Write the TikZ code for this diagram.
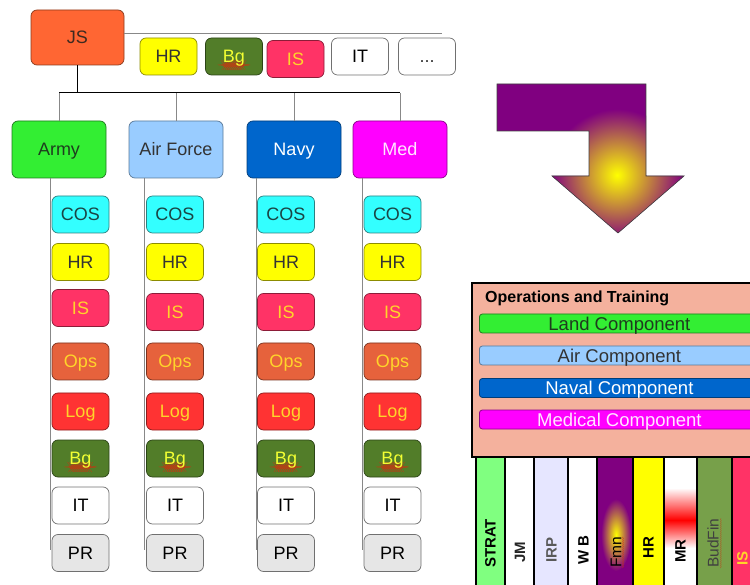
\documentclass[tikz,border=0pt]{standalone}
\usepackage{fontspec}
\setmainfont{Liberation Sans}
\usetikzlibrary{decorations.pathmorphing}

% fills, borders and text colours of the units
\definecolor{JSfill}{HTML}{FF6633}\definecolor{JSdraw}{HTML}{8C3A1C}\definecolor{JStext}{HTML}{3D2A20}
\definecolor{HRfill}{HTML}{FFFF00}\definecolor{HRdraw}{HTML}{8C8C00}\definecolor{HRtext}{HTML}{333333}
\definecolor{BGfill}{HTML}{527D29}\definecolor{BGdraw}{HTML}{2B4416}\definecolor{BGtext}{HTML}{F2FF33}
\definecolor{ISfill}{HTML}{FF3366}\definecolor{ISdraw}{HTML}{8C1C38}\definecolor{IStext}{HTML}{FFD42A}
\definecolor{ITdraw}{HTML}{707070}
\definecolor{COSfill}{HTML}{33FFFF}\definecolor{COSdraw}{HTML}{2B8080}\definecolor{COStext}{HTML}{1A4545}
\definecolor{OPSfill}{HTML}{E6623C}\definecolor{OPSdraw}{HTML}{7A3320}
\definecolor{LOGfill}{HTML}{FF3333}\definecolor{LOGdraw}{HTML}{8C1C1C}
\definecolor{PRfill}{HTML}{E6E6E6}
\definecolor{ARMYfill}{HTML}{33EE33}\definecolor{ARMYdraw}{HTML}{1F7A1F}\definecolor{ARMYtext}{HTML}{1E3D1E}
\definecolor{AIRfill}{HTML}{99CCFF}\definecolor{AIRdraw}{HTML}{5A7A99}
\definecolor{NAVYfill}{HTML}{0066CC}\definecolor{NAVYdraw}{HTML}{003D7A}
\definecolor{MEDfill}{HTML}{FF00FF}\definecolor{MEDdraw}{HTML}{8C008C}\definecolor{MEDtext}{HTML}{FFE6FF}
\definecolor{LINKgray}{HTML}{888888}
\definecolor{ArrowPurple}{HTML}{800080}
\definecolor{OTfill}{HTML}{F4B19D}
\definecolor{STRATfill}{HTML}{80FF80}
\definecolor{IRPfill}{HTML}{E6E6FF}
\definecolor{BUDfill}{HTML}{77A04A}
\definecolor{SpellRed}{HTML}{D03010}

\begin{document}
\begin{tikzpicture}[x=1pt, y=-1pt,
  box/.style={draw, rounded corners=6pt, line width=0.7pt, inner sep=0pt,
    text height=12.9pt, text depth=0pt, font=\fontsize{18}{20}\selectfont},
  unit/.style={box, minimum width=57pt, minimum height=37pt},
  dept/.style={box, minimum width=94pt, minimum height=57pt},
  cJS/.style={fill=JSfill, draw=JSdraw, text=JStext},
  cHR/.style={fill=HRfill, draw=HRdraw, text=HRtext},
  cBG/.style={fill=BGfill, draw=BGdraw, text=BGtext, spell},
  cIS/.style={fill=ISfill, draw=ISdraw, text=IStext},
  cIT/.style={fill=white, draw=ITdraw, text=black},
  cCOS/.style={fill=COSfill, draw=COSdraw, text=COStext},
  cOPS/.style={fill=OPSfill, draw=OPSdraw, text=IStext},
  cLOG/.style={fill=LOGfill, draw=LOGdraw, text=IStext},
  cPR/.style={fill=PRfill, draw=ITdraw, text=black},
  squiggle/.style={SpellRed, draw opacity=0.8, line width=0.3pt, decorate,
      decoration={snake, amplitude=0.5pt, segment length=2pt}},
  spell/.style={path picture={\draw[squiggle]
      ([xshift=-11pt,yshift=-8.5pt]path picture bounding box.center) -- ++(22pt,0pt);}},
  link/.style={draw=LINKgray, line width=1pt},
  trunk/.style={draw=black, line width=1pt},
  comp/.style={draw, rounded corners=3pt, line width=0.8pt, minimum width=280pt,
    minimum height=19pt, inner sep=0pt, text height=13.2pt, text depth=0pt,
    anchor=west, font=\fontsize{18.5}{20}\selectfont},
  col/.style={inner sep=0pt, minimum height=140pt, anchor=north west},
  colrule/.style={draw=black, line width=1.6pt},
  coltext/.style={rotate=90, anchor=west, inner sep=0pt,
    font=\bfseries\fontsize{15}{17}\selectfont},
]
\clip (0,0) rectangle (750,585);

% ---- head of the structure and its staff units
\node[box, cJS, minimum width=93pt, minimum height=55pt] (js) at (77.5,37.5) {JS};
\coordinate (staffend) at (442,34);
\draw[link] (js.east |- staffend) -- (staffend);
\node[unit, cHR] (hr) at (168.5,56.5) {HR};
\node[unit, cBG] (bg) at (234,56.5) {Bg};
\node[unit, cIS] (is) at (295.5,59) {IS};
\node[unit, cIT] (it) at (360,56.5) {IT};
\node[unit, cIT, text=HRtext] (more) at (427,56.5) {...};

% ---- services
\node[dept, fill=ARMYfill, draw=ARMYdraw, text=ARMYtext] (army) at (59,149.5) {Army};
\node[dept, fill=AIRfill, draw=AIRdraw, text=HRtext] (air) at (176,149.5) {Air Force};
\node[dept, fill=NAVYfill, draw=NAVYdraw, text=white] (navy) at (294,149.5) {Navy};
\node[dept, fill=MEDfill, draw=MEDdraw, text=MEDtext] (med) at (400,149.5) {Med};

\coordinate (bus) at (77.5,93);
\draw[trunk] (js.south) -- (bus);
\draw[trunk] (army.north |- bus) -- (med.north |- bus);
\foreach \d in {army,air,navy,med}
  \draw[link] (\d.north) -- (\d.north |- bus);

% ---- branches under each service
\foreach \c/\lx in {army/50, air/144, navy/256, med/362} {
  \coordinate (\c-end) at (\lx,550);
  \draw[link] (\c-end |- \c.south) -- (\c-end);
}
\foreach \c/\x/\isy in {army/80.5/308, air/175/312, navy/286/312, med/392.5/312} {
  \node[unit, cCOS] (\c-cos) at (\x,214.5) {COS};
  \node[unit, cHR]  (\c-hr)  at (\x,262) {HR};
  \node[unit, cIS]  (\c-is)  at (\x,\isy) {IS};
  \node[unit, cOPS] (\c-ops) at (\x,361.5) {Ops};
  \node[unit, cLOG] (\c-log) at (\x,411.5) {Log};
  \node[unit, cBG]  (\c-bg)  at (\x,458.5) {Bg};
  \node[unit, cIT]  (\c-it)  at (\x,505.5) {IT};
  \node[unit, cPR]  (\c-pr)  at (\x,553) {PR};
}

% ---- bent arrow towards the new structure
\coordinate (a1) at (497,84);  \coordinate (a2) at (646,84);
\coordinate (a3) at (646,176); \coordinate (a4) at (684,176);
\coordinate (a5) at (618,233); \coordinate (a6) at (552,176);
\coordinate (a7) at (589,176); \coordinate (a8) at (589,131);
\coordinate (a9) at (497,131);
\begin{scope}
  \clip (a1) -- (a2) -- (a3) -- (a4) -- (a5) -- (a6) -- (a7) -- (a8) -- (a9) -- cycle;
  \fill[ArrowPurple] (a1) -- (a2) -- (a3) -- (a4) -- (a5) -- (a6) -- (a7) -- (a8) -- (a9) -- cycle;
  \shade[inner color=yellow, outer color=ArrowPurple] (617,175) circle [radius=66pt];
\end{scope}
\draw[draw=black!75, line width=0.6pt] (a1) -- (a2) -- (a3) -- (a4) -- (a5) -- (a6) -- (a7) -- (a8) -- (a9) -- cycle;

% ---- directorate columns
\node[col, fill=STRATfill, minimum width=29pt] (c1) at (476,457) {};
\node[col, fill=white,     minimum width=29pt] (c2) at (505,457) {};
\node[col, fill=IRPfill,   minimum width=34pt] (c3) at (534,457) {};
\node[col, fill=white,     minimum width=29pt] (c4) at (568,457) {};
\node[col, fill=ArrowPurple, minimum width=36pt] (c5) at (597,457) {};
\node[col, fill=HRfill,    minimum width=31pt] (c6) at (633,457) {};
\node[col, fill=white,     minimum width=33pt] (c7) at (664,457) {};
\node[col, fill=BUDfill,   minimum width=35pt] (c8) at (697,457) {};
\node[col, fill=ISfill,    minimum width=40pt] (c9) at (732,457) {};
\begin{scope}
  \clip (c5.north west) rectangle (c5.south east);
  \shade[inner color=yellow, outer color=ArrowPurple] (616,535) ellipse [x radius=15pt, y radius=36pt];
\end{scope}
\shade[top color=white, bottom color=red] (665,488) rectangle (696,520);
\shade[top color=red, bottom color=white] (665,520) rectangle (696,548);
\foreach \c in {c1,c2,c3,c4,c5,c6,c7,c8,c9}
  \draw[colrule] (\c.north west) rectangle (\c.south east);

\node[coltext, text=black] (strat) at (490.5,568) {STRAT};
\node[coltext, text=black!85] (jm) at (520,563) {JM};
\node[coltext, text=black!65] (irp) at (551.5,563) {IRP};
\node[coltext, text=black] (wb) at (583.5,565) {W B};
\node[coltext, text=black, font=\fontsize{15.5}{17}\selectfont] (fmn) at (616,568) {Fmn};
\node[coltext, text=black] (hrc) at (648.5,559) {HR};
\node[coltext, text=black] (mr) at (680.5,563) {MR};
\node[coltext, text=black!75, font=\fontsize{15.5}{17}\selectfont] (budfin) at (713,568) {BudFin};
\node[coltext, text=IStext] (isc) at (742.5,566) {IS};
\draw[squiggle] ([xshift=1.5pt]fmn.south west) -- ([xshift=1.5pt]fmn.south east);
\draw[squiggle] ([xshift=2pt]budfin.south west) -- ([xshift=2pt]budfin.south east);

% ---- operations and training
\node[draw=black, line width=1.6pt, fill=OTfill, minimum width=300pt, minimum height=174pt,
  inner sep=0pt, anchor=north west] (ot) at (471,282) {};
\node[anchor=base west, inner sep=0pt, font=\bfseries\fontsize{16}{18}\selectfont] (ottitle) at (485,303) {Operations and Training};
\node[comp, fill=ARMYfill, draw=ARMYdraw, text=ARMYtext] (land) at (479,323.5) {Land Component};
\node[comp, fill=AIRfill, draw=AIRdraw, text=HRtext] (aircomp) at (479,355.5) {Air Component};
\node[comp, fill=NAVYfill, draw=NAVYdraw, text=white] (naval) at (479,388) {Naval Component};
\node[comp, fill=MEDfill, draw=MEDdraw, text=MEDtext] (medical) at (479,419.5) {Medical Component};
\end{tikzpicture}
\end{document}
